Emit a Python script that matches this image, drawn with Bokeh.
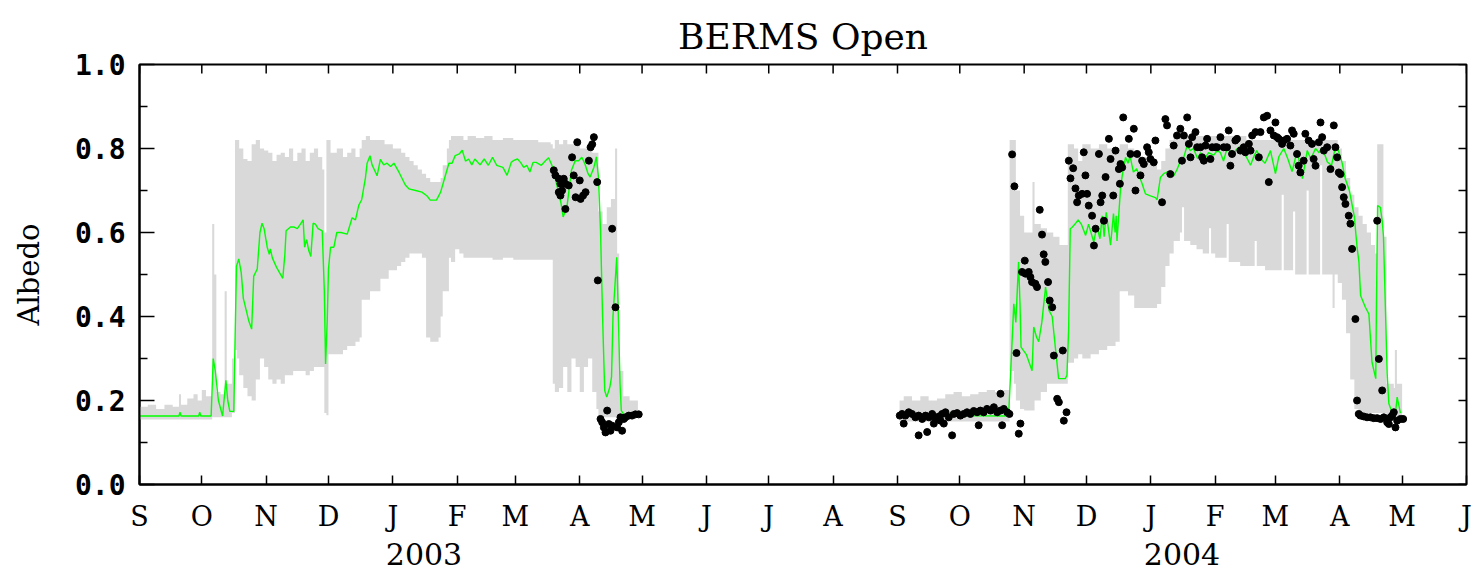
from bokeh.plotting import figure
from bokeh.models import LinearAxis, FixedTicker, Range1d, PrintfTickFormatter, ColumnDataSource
from bokeh.embed import file_html
from bokeh.resources import INLINE

# ---------------- data (x = days since 2002-09-01) ----------------
month_days = [0, 30, 61, 91, 122, 153, 181, 212, 242, 273, 303, 334,
              365, 395, 426, 456, 487, 518, 547, 578, 608, 639]
month_labels = ["S", "O", "N", "D", "J", "F", "M", "A", "M", "J", "J", "A",
                "S", "O", "N", "D", "J", "F", "M", "A", "M", "J"]
year_days = [137, 502]
year_labels = ["2003", "2004"]
y_major = [0, 0.2, 0.4, 0.6, 0.8, 1.0]
y_minor = [0.1, 0.3, 0.5, 0.7, 0.9]

# grey range band (day, min, max), stepwise
band_2003 = [
    (0, 0.155, 0.185), (4, 0.155, 0.19), (8, 0.155, 0.18), (12, 0.155, 0.19), (16, 0.155, 0.185),
    (19, 0.155, 0.215), (20, 0.155, 0.19), (23, 0.155, 0.205), (26, 0.155, 0.215), (28, 0.155, 0.2),
    (30, 0.155, 0.225), (32, 0.155, 0.21), (35, 0.16, 0.62), (36, 0.16, 0.5), (37, 0.16, 0.22),
    (39, 0.16, 0.215), (41, 0.16, 0.46), (42, 0.16, 0.24), (44.5, 0.17, 0.3), (46, 0.32, 0.82),
    (47, 0.3, 0.82), (48, 0.26, 0.8), (50, 0.23, 0.775), (52, 0.21, 0.77), (54, 0.2, 0.81),
    (56, 0.25, 0.82), (58, 0.3, 0.8), (60, 0.28, 0.795), (62, 0.25, 0.79), (64, 0.24, 0.77),
    (66, 0.25, 0.785), (68, 0.24, 0.79), (70, 0.26, 0.78), (72, 0.26, 0.8), (74, 0.27, 0.77),
    (76, 0.27, 0.79), (78, 0.27, 0.8), (80, 0.26, 0.77), (82, 0.27, 0.79), (84, 0.28, 0.8),
    (86, 0.28, 0.78), (88, 0.28, 0.75), (89, 0.17, 0.6), (90, 0.165, 0.82), (91, 0.31, 0.82),
    (92, 0.31, 0.79), (95, 0.31, 0.8), (98, 0.32, 0.78), (100, 0.33, 0.79), (102, 0.33, 0.8),
    (104, 0.34, 0.78), (106, 0.35, 0.8), (107, 0.44, 0.82), (109, 0.44, 0.83), (111, 0.46, 0.82),
    (116, 0.49, 0.82), (118, 0.49, 0.81), (120, 0.51, 0.81), (122, 0.51, 0.8), (124, 0.52, 0.8),
    (126, 0.53, 0.79), (128, 0.54, 0.78), (130, 0.55, 0.77), (132, 0.55, 0.76), (134, 0.55, 0.75),
    (136, 0.54, 0.74), (138, 0.35, 0.73), (140, 0.34, 0.72), (144, 0.35, 0.72), (145, 0.4, 0.73),
    (146, 0.46, 0.76), (148, 0.46, 0.8), (149, 0.54, 0.82), (150, 0.53, 0.83), (152, 0.56, 0.83),
    (154, 0.55, 0.83), (156, 0.54, 0.82), (158, 0.54, 0.83), (162, 0.54, 0.825), (166, 0.54, 0.83),
    (170, 0.535, 0.82), (175, 0.54, 0.825), (180, 0.535, 0.82), (186, 0.535, 0.82), (192, 0.535, 0.815),
    (198, 0.535, 0.81), (199, 0.24, 0.8), (200, 0.22, 0.82), (202, 0.23, 0.81), (204, 0.28, 0.82),
    (206, 0.22, 0.81), (208, 0.3, 0.81), (210, 0.28, 0.82), (212, 0.22, 0.8), (214, 0.28, 0.8),
    (216, 0.3, 0.8), (218, 0.22, 0.79), (220, 0.18, 0.79), (221, 0.16, 0.65), (223, 0.16, 0.62),
    (225, 0.16, 0.66), (227, 0.16, 0.68), (229, 0.16, 0.8), (230, 0.16, 0.55), (231, 0.16, 0.27),
    (233, 0.16, 0.21), (236, 0.16, 0.2), (240, 0.16, 0.2),
]
band_2004 = [
    (366, 0.15, 0.2), (368, 0.15, 0.21), (372, 0.15, 0.2), (376, 0.15, 0.21), (380, 0.15, 0.2),
    (384, 0.15, 0.205), (388, 0.15, 0.215), (392, 0.15, 0.22), (396, 0.15, 0.21), (400, 0.15, 0.215),
    (404, 0.15, 0.22), (408, 0.15, 0.225), (412, 0.15, 0.22), (416, 0.15, 0.225), (419, 0.27, 0.82),
    (421, 0.24, 0.82), (422, 0.2, 0.7), (424, 0.18, 0.64), (426, 0.176, 0.6), (430, 0.176, 0.72),
    (431, 0.2, 0.62), (434, 0.22, 0.61), (437, 0.24, 0.6), (440, 0.24, 0.59), (443, 0.24, 0.57),
    (447, 0.29, 0.81), (450, 0.3, 0.8), (452, 0.31, 0.77), (454, 0.3, 0.81), (458, 0.31, 0.8),
    (462, 0.32, 0.81), (466, 0.33, 0.8), (470, 0.34, 0.8), (472, 0.46, 0.81), (476, 0.45, 0.8),
    (479, 0.42, 0.79), (482, 0.42, 0.78), (485, 0.42, 0.77), (487, 0.42, 0.76), (490, 0.43, 0.75),
    (492, 0.47, 0.77), (494, 0.52, 0.8), (496, 0.55, 0.82), (498, 0.58, 0.83), (501, 0.6, 0.83),
    (502, 0.66, 0.83), (503, 0.58, 0.83), (506, 0.57, 0.83), (509, 0.56, 0.83), (512, 0.55, 0.83),
    (515, 0.61, 0.83), (516, 0.55, 0.83), (518, 0.54, 0.83), (521, 0.54, 0.83), (523.5, 0.62, 0.83),
    (524.5, 0.53, 0.83), (527, 0.53, 0.82), (530, 0.52, 0.83), (533, 0.52, 0.82), (537, 0.58, 0.82),
    (538, 0.52, 0.82), (542, 0.51, 0.82), (546, 0.51, 0.82), (550, 0.69, 0.82), (551, 0.51, 0.82),
    (555.5, 0.65, 0.82), (556.5, 0.5, 0.82), (562, 0.7, 0.82), (563, 0.5, 0.82), (568.5, 0.76, 0.82),
    (569.5, 0.5, 0.82), (574.5, 0.42, 0.82), (575.5, 0.5, 0.82), (577, 0.48, 0.8), (579, 0.44, 0.77),
    (581, 0.36, 0.73), (583, 0.25, 0.69), (585, 0.18, 0.66), (587, 0.17, 0.64), (589, 0.17, 0.62),
    (591, 0.17, 0.6), (593, 0.17, 0.57), (595, 0.17, 0.55), (596, 0.17, 0.81), (599, 0.17, 0.59),
    (600.5, 0.16, 0.24), (604, 0.16, 0.23), (604.5, 0.16, 0.32), (605.5, 0.16, 0.24), (608, 0.16, 0.24),
]

# green mean line (day, albedo)
mean_2003 = [
    (0, 0.163), (19, 0.163), (19.5, 0.172), (20, 0.163), (28.5, 0.163), (29, 0.172), (29.5, 0.163),
    (34.5, 0.163), (35.5, 0.30), (36.5, 0.27), (38, 0.2), (40, 0.163), (41.6, 0.248), (42.5, 0.2),
    (43.5, 0.174), (45.4, 0.174), (46, 0.34), (46.7, 0.52), (47.8, 0.537), (49, 0.504), (50, 0.443),
    (52.6, 0.39), (54, 0.37), (55, 0.496), (56.7, 0.513), (58, 0.6), (59, 0.622), (60, 0.609),
    (61.5, 0.565), (62.5, 0.548), (63, 0.561), (64, 0.539), (66, 0.517), (69, 0.491), (70, 0.548),
    (70.6, 0.604), (72.7, 0.613), (74.5, 0.613), (76, 0.609), (77.5, 0.62), (78.8, 0.63), (79.5, 0.565),
    (80.5, 0.583), (81.5, 0.557), (82.5, 0.543), (83.6, 0.622), (84.7, 0.62), (86, 0.609), (88, 0.604),
    (89, 0.46), (89.6, 0.287), (90.4, 0.39), (91, 0.513), (92, 0.565), (93.6, 0.565), (95, 0.6),
    (97, 0.6), (100, 0.596), (102.4, 0.635), (104, 0.63), (105.6, 0.665), (107, 0.678), (108.8, 0.73),
    (109.6, 0.765), (111, 0.783), (112, 0.761), (114.4, 0.735), (116, 0.774), (117.6, 0.761),
    (119.2, 0.765), (120.9, 0.757), (122.5, 0.765), (125, 0.743), (128, 0.713), (129.7, 0.704),
    (133, 0.7), (136, 0.696), (138.5, 0.687), (140, 0.677), (143, 0.677), (145, 0.696), (146.5, 0.722),
    (149, 0.765), (150.5, 0.765), (152, 0.783), (154, 0.787), (155.4, 0.796), (157, 0.77), (158.5, 0.775),
    (160, 0.761), (161.5, 0.775), (164, 0.761), (166, 0.775), (168, 0.76), (170, 0.779), (172, 0.76),
    (175, 0.755), (177, 0.736), (179, 0.767), (180, 0.771), (182, 0.775), (183.5, 0.767), (185, 0.755),
    (186.5, 0.76), (188, 0.744), (189.5, 0.767), (191, 0.767), (193.5, 0.76), (195.5, 0.771),
    (197, 0.778), (198.6, 0.76), (200, 0.732), (201.6, 0.7), (203, 0.669), (204, 0.637), (205.8, 0.66),
    (207, 0.708), (208, 0.748), (209.8, 0.771), (211.5, 0.771), (213, 0.779), (214.5, 0.763),
    (216, 0.74), (217, 0.732), (218.8, 0.755), (220, 0.78), (221, 0.732), (222, 0.605), (223, 0.398),
    (224, 0.224), (225, 0.208), (226.5, 0.232), (227.3, 0.256), (228, 0.4), (229, 0.478), (229.8, 0.541),
    (230.6, 0.398), (231.4, 0.24), (232, 0.176), (233.6, 0.164), (240, 0.165),
]
mean_2004 = [
    (390, 0.168), (391.3, 0.172), (393, 0.164), (418.5, 0.163), (419.7, 0.288), (421, 0.43), (422, 0.386),
    (423.3, 0.53), (424, 0.43), (424.5, 0.327), (427, 0.31), (429.8, 0.271), (430.6, 0.375), (432, 0.35),
    (433, 0.34), (434.5, 0.386), (436.3, 0.47), (438, 0.414), (439.5, 0.4), (441, 0.327), (442.6, 0.252),
    (445.8, 0.252), (446.6, 0.26), (447.4, 0.367), (448.2, 0.609), (449, 0.612), (450.5, 0.62),
    (452, 0.63), (453.5, 0.62), (455.6, 0.593), (457, 0.62), (459.5, 0.577), (461, 0.615), (462.5, 0.585),
    (463.6, 0.64), (464.5, 0.59), (465.5, 0.648), (467.6, 0.57), (469, 0.645), (469.8, 0.6), (470.3, 0.64),
    (470.7, 0.58), (472.4, 0.704), (473.2, 0.735), (474.8, 0.779), (476, 0.765), (477, 0.782),
    (478.6, 0.744), (480.2, 0.752), (482.8, 0.716), (484.4, 0.692), (486.8, 0.687), (489.2, 0.683),
    (490, 0.678), (491.6, 0.731), (493.2, 0.74), (494.8, 0.744), (496.4, 0.74), (498, 0.735),
    (499.6, 0.75), (501.3, 0.771), (502.9, 0.78), (504.5, 0.807), (506, 0.795), (507.5, 0.8),
    (509.5, 0.776), (511, 0.79), (512.4, 0.771), (514.8, 0.79), (517.2, 0.784), (519, 0.795),
    (520.5, 0.79), (522, 0.77), (523.5, 0.797), (525, 0.795), (526.5, 0.78), (528, 0.797), (530, 0.805),
    (531.5, 0.795), (533.5, 0.775), (535, 0.76), (536.5, 0.78), (538, 0.795), (540, 0.775), (542, 0.765),
    (544.6, 0.795), (547, 0.74), (548.6, 0.78), (551, 0.8), (553, 0.775), (555, 0.745), (557.5, 0.795),
    (560, 0.728), (562.3, 0.795), (564, 0.775), (566.3, 0.8), (568, 0.79), (569.5, 0.803), (572, 0.768),
    (574, 0.76), (575.5, 0.795), (577, 0.8), (579, 0.768), (580.6, 0.728), (582.6, 0.7), (585, 0.637),
    (586.3, 0.565), (587.2, 0.53), (588, 0.45), (590.3, 0.422), (592, 0.406), (593.5, 0.291),
    (595.3, 0.252), (595.6, 0.41), (596.2, 0.664), (597.5, 0.66), (598.4, 0.628), (599, 0.593),
    (600, 0.41), (600.8, 0.264), (601.6, 0.193), (603, 0.174), (604.8, 0.17), (605.6, 0.208), (607.2, 0.17),
]

# black observed points (day, albedo)
obs_2003 = [
    (199.5, 0.748), (200.3, 0.736), (201.9, 0.728), (202.7, 0.716), (204.3, 0.728), (201.9, 0.696),
    (203.5, 0.7), (202.7, 0.688), (205.1, 0.716), (206.7, 0.712), (205.1, 0.656), (209.1, 0.736),
    (210.8, 0.815), (208.3, 0.779), (212, 0.724), (210, 0.684), (212.4, 0.68), (214.8, 0.696),
    (213.6, 0.688), (216.4, 0.771), (217.2, 0.803), (218, 0.81), (218.8, 0.827), (220.4, 0.72),
    (227.6, 0.609), (220.7, 0.486), (229.2, 0.422), (225.2, 0.176), (222, 0.156), (222.8, 0.148),
    (223.6, 0.136), (224.4, 0.124), (226, 0.144), (226.8, 0.128), (227.6, 0.14), (230, 0.136),
    (230.8, 0.148), (231.6, 0.16), (233.2, 0.156), (234, 0.16), (235.6, 0.164), (237.2, 0.164),
    (238.8, 0.167), (240.4, 0.167), (232.4, 0.128),
]
obs_2004 = [
    (366.1, 0.164), (367.2, 0.168), (368.8, 0.164), (370.4, 0.172), (372, 0.168), (373.6, 0.16),
    (375.2, 0.164), (376.9, 0.156), (378.5, 0.164), (380.1, 0.16), (381.7, 0.168), (383.3, 0.156),
    (384.9, 0.162), (386.5, 0.168), (388.1, 0.172), (389.7, 0.16), (392.1, 0.168), (393.7, 0.17),
    (395.3, 0.164), (396.9, 0.168), (398.5, 0.172), (400.1, 0.168), (401.7, 0.175), (403.3, 0.172),
    (404.9, 0.176), (406.5, 0.172), (408.1, 0.18), (409.8, 0.176), (411.4, 0.184), (413, 0.172),
    (414.6, 0.176), (416.2, 0.18), (417.8, 0.172), (418.9, 0.168),
    (368, 0.145), (375.2, 0.117), (379.3, 0.125), (382.5, 0.145), (387.3, 0.145), (391.3, 0.117),
    (404.1, 0.141), (415.4, 0.141), (414.6, 0.216), (424.2, 0.145), (423.4, 0.121), (385.7, 0.152),
    (420.2, 0.786), (421.3, 0.71), (422.3, 0.313), (426.3, 0.533), (425, 0.506), (426.6, 0.502),
    (428.2, 0.506), (429, 0.494), (429.8, 0.482), (431.4, 0.478), (432.2, 0.47), (433.5, 0.654),
    (434.6, 0.595), (435.4, 0.548), (436.2, 0.53), (437.5, 0.482), (438.3, 0.438), (439.5, 0.422),
    (440.3, 0.307), (444.6, 0.319), (441.9, 0.204), (442.7, 0.196), (446.4, 0.172), (445.1, 0.152),
    (447.5, 0.771), (449.6, 0.753), (448.3, 0.729), (450.7, 0.705), (452.3, 0.688), (451.5, 0.672),
    (453.9, 0.692), (456.3, 0.692), (455.5, 0.736), (454.7, 0.791), (457.1, 0.664), (458.7, 0.64),
    (460.4, 0.609), (459.6, 0.569), (462, 0.787), (462.8, 0.672), (463.6, 0.688), (464.4, 0.628),
    (465.2, 0.732), (466.8, 0.823), (467.6, 0.775), (468.9, 0.688), (470, 0.795), (471.6, 0.751),
    (472.4, 0.763), (473.2, 0.755), (472.1, 0.716), (473.7, 0.874), (476.4, 0.823), (477.2, 0.787),
    (478.8, 0.847), (480.4, 0.787), (482.8, 0.771), (482, 0.736), (483.6, 0.763), (479.6, 0.7),
    (485.2, 0.803), (486, 0.791), (486.8, 0.775), (488.4, 0.767),
    (489.2, 0.819), (492.4, 0.672), (494, 0.87), (494.8, 0.855), (496.4, 0.739), (498, 0.807),
    (499.6, 0.831), (501.2, 0.847), (502, 0.771), (502.9, 0.831), (504.5, 0.874), (505.3, 0.811),
    (506.1, 0.779), (506.9, 0.827), (508.5, 0.839), (509.3, 0.803), (510.9, 0.803), (511.7, 0.779),
    (512.5, 0.771), (513.3, 0.807), (514.1, 0.823), (515.7, 0.775), (516.5, 0.803), (518.1, 0.803),
    (518.9, 0.803), (520.5, 0.827), (522.1, 0.803), (523.7, 0.803), (524.5, 0.843), (525.3, 0.759),
    (526.1, 0.787), (527.7, 0.819), (528.5, 0.823), (530.1, 0.795), (531.7, 0.803), (532.5, 0.791),
    (534.2, 0.811), (535, 0.795), (535.8, 0.831), (537.4, 0.839), (539, 0.779), (539.8, 0.839),
    (541.4, 0.874), (543, 0.878), (543.8, 0.72), (544.6, 0.843), (546.2, 0.831), (547, 0.862),
    (547.8, 0.827), (548.6, 0.823), (550.2, 0.811), (551, 0.819), (552.6, 0.823), (554.2, 0.807),
    (555, 0.843), (555.8, 0.835), (557.4, 0.787), (558.2, 0.759), (559, 0.743), (560.6, 0.771),
    (561.4, 0.835), (563, 0.819), (564.6, 0.811), (565.4, 0.775), (566.3, 0.759), (567.9, 0.815),
    (568.7, 0.862), (569.5, 0.827), (570.3, 0.795), (571.9, 0.803), (573.5, 0.751), (575.1, 0.855),
    (575.9, 0.803), (576.7, 0.779), (577.5, 0.743), (578.3, 0.739), (579.1, 0.708), (579.9, 0.684),
    (580.7, 0.668), (582.3, 0.64), (583.1, 0.621), (583.9, 0.561), (585.5, 0.394), (586.3, 0.2),
    (587.1, 0.168), (596, 0.628), (596.8, 0.299), (598.4, 0.224),
    (587.9, 0.164), (589.5, 0.162), (591.1, 0.16), (592.7, 0.16), (594.3, 0.158), (596, 0.158),
    (597.6, 0.156), (599.2, 0.16), (600.8, 0.148), (601.6, 0.144), (602.4, 0.16), (603.2, 0.164),
    (604, 0.172), (604.8, 0.136), (605.6, 0.152), (607.2, 0.156), (608.5, 0.156),
]

X_END = month_days[-1]
FRAME_W, FRAME_H = 1327, 420   # plot frame size in px, used to express tick length


def step_area(rows):
    xs, lo, hi = [], [], []
    for (d0, l0, h0), (d1, _, _) in zip(rows[:-1], rows[1:]):
        xs += [d0, d1]
        lo += [l0, l0]
        hi += [h0, h0]
    return xs, lo, hi


p = figure(width=1476, height=571, output_backend="svg", toolbar_location=None,
           x_range=Range1d(0, X_END), y_range=Range1d(0, 1),
           x_axis_type=None, y_axis_type=None,
           min_border_left=139, min_border_right=10, min_border_top=64, min_border_bottom=87)
p.background_fill_color = "white"
p.border_fill_color = "white"
p.outline_line_color = "black"
p.outline_line_width = 2

p.title.text = "BERMS Open"
p.title.align = "center"
p.title.text_font = "DejaVu Serif"
p.title.text_font_size = "36px"
p.title.text_font_style = "normal"
p.title.text_color = "black"
p.title.standoff = 16

for band in (band_2003, band_2004):
    xs, lo, hi = step_area(band)
    p.varea(x=xs, y1=lo, y2=hi, fill_color="#d9d9d9")

for series in (mean_2003, mean_2004):
    p.line(x=[d for d, _ in series], y=[v for _, v in series], line_color="#00ff00", line_width=1.4)

for obs in (obs_2003, obs_2004):
    src = ColumnDataSource(dict(x=[d for d, _ in obs], y=[v for _, v in obs]))
    p.scatter("x", "y", source=src, marker="circle", size=7, fill_color="black", line_color="black")

# inward ticks on the top and right frame edges
top_len = 9 / FRAME_H
p.segment(x0=month_days, y0=[1.0] * len(month_days), x1=month_days,
          y1=[1.0 - top_len] * len(month_days), line_color="black", line_width=1.5)
right_ticks = y_major + y_minor
right_len = 8 * X_END / FRAME_W
p.segment(x0=[X_END] * len(right_ticks), y0=right_ticks, x1=[X_END - right_len] * len(right_ticks),
          y1=right_ticks, line_color="black", line_width=1.5)

# axes
xb = LinearAxis(ticker=FixedTicker(ticks=month_days),
                major_label_overrides={d: l for d, l in zip(month_days, month_labels)})
xb.major_tick_in = 9
xb.major_tick_out = 0
xb.major_label_standoff = 16
xb.major_label_text_font = "DejaVu Serif"
xb.major_label_text_font_size = "27px"
xb.major_label_text_color = "black"
xb.axis_line_width = 2
xb.major_tick_line_width = 1.5
p.add_layout(xb, "below")

xy = LinearAxis(ticker=FixedTicker(ticks=year_days),
                major_label_overrides={d: l for d, l in zip(year_days, year_labels)})
xy.major_tick_in = 0
xy.major_tick_out = 0
xy.axis_line_color = None
xy.major_label_standoff = 8
xy.major_label_text_font = "DejaVu Serif"
xy.major_label_text_font_size = "30px"
xy.major_label_text_color = "black"
p.add_layout(xy, "below")

yl = LinearAxis(ticker=FixedTicker(ticks=y_major, minor_ticks=y_minor),
                formatter=PrintfTickFormatter(format="%.1f"))
yl.major_tick_in = 15
yl.major_tick_out = 0
yl.minor_tick_in = 8
yl.minor_tick_out = 0
yl.major_label_standoff = 14
yl.major_label_text_font = "DejaVu Sans Mono"
yl.major_label_text_font_style = "bold"
yl.major_label_text_font_size = "28px"
yl.major_label_text_color = "black"
yl.axis_label = "Albedo"
yl.axis_label_text_font = "DejaVu Serif"
yl.axis_label_text_font_style = "normal"
yl.axis_label_text_font_size = "29px"
yl.axis_label_text_color = "black"
yl.axis_label_standoff = 26
yl.axis_line_width = 2
yl.major_tick_line_width = 1.5
yl.minor_tick_line_width = 1.5
p.add_layout(yl, "left")

open("out.html", "w").write(file_html(p, INLINE))
